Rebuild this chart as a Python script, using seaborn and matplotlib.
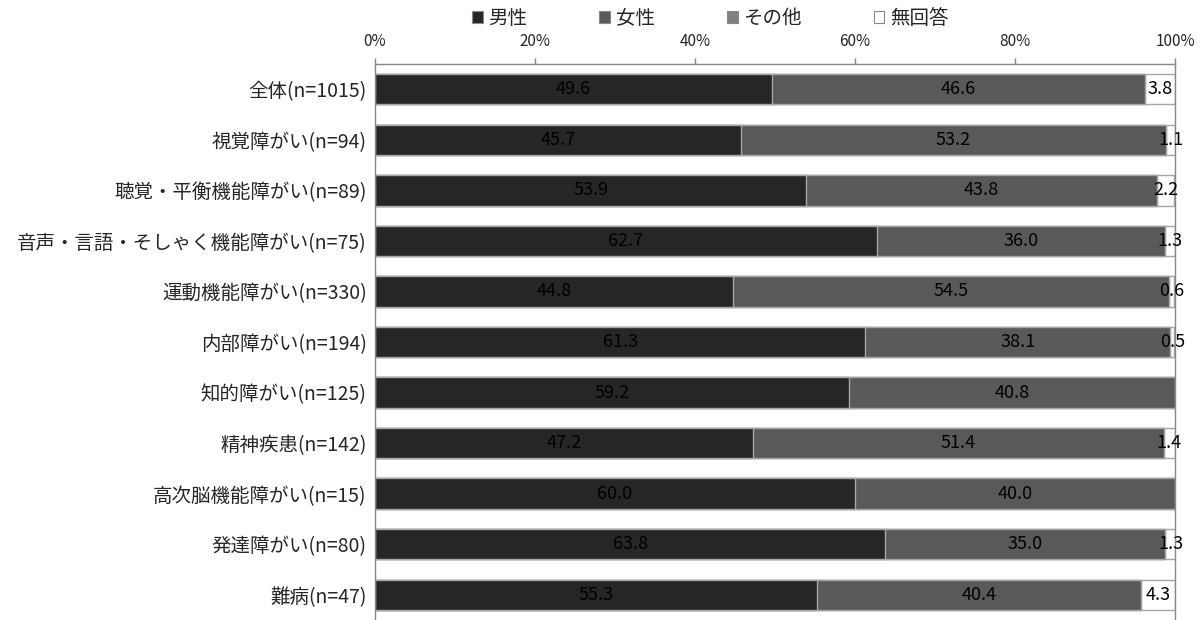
import matplotlib
matplotlib.use("Agg")
import matplotlib.pyplot as plt
from matplotlib.patches import Patch
import seaborn as sns
import pandas as pd
import numpy as np

categories = [
    "全体(n=1015)",
    "視覚障がい(n=94)",
    "聴覚・平衡機能障がい(n=89)",
    "音声・言語・そしゃく機能障がい(n=75)",
    "運動機能障がい(n=330)",
    "内部障がい(n=194)",
    "知的障がい(n=125)",
    "精神疾患(n=142)",
    "高次脳機能障がい(n=15)",
    "発達障がい(n=80)",
    "難病(n=47)",
]
male = [49.6, 45.7, 53.9, 62.7, 44.8, 61.3, 59.2, 47.2, 60.0, 63.8, 55.3]
female = [46.6, 53.2, 43.8, 36.0, 54.5, 38.1, 40.8, 51.4, 40.0, 35.0, 40.4]
other = [0.0, 0.0, 0.0, 0.0, 0.0, 0.0, 0.0, 0.0, 0.0, 0.0, 0.0]
no_answer = [3.8, 1.1, 2.2, 1.3, 0.6, 0.5, 0.0, 1.4, 0.0, 1.3, 4.3]

series_names = ["男性", "女性", "その他", "無回答"]
colors = ["#262626", "#595959", "#808080", "#ffffff"]
edge = "#a6a6a6"

sns.set_theme(style="white")
plt.rcParams["font.family"] = ["Noto Sans CJK JP", "DejaVu Sans"]

parts = np.array([male, female, other, no_answer])
cum = np.cumsum(parts, axis=0)

fig = plt.figure(figsize=(12.04, 6.2), dpi=100)
ax = fig.add_axes([375 / 1204, 0.0, 800 / 1204, 1 - 64 / 620])

# stacked bars: draw the running totals from the widest down
for i in range(3, -1, -1):
    d = pd.DataFrame({"category": categories, "value": cum[i]})
    sns.barplot(data=d, x="value", y="category", orient="h", color=colors[i],
                saturation=1, width=0.6, edgecolor=edge, linewidth=1.0, ax=ax)

# value labels in the middle of each segment
for r in range(len(categories)):
    for i in range(4):
        v = parts[i][r]
        if v <= 0:
            continue
        start = cum[i][r] - v
        ax.text(start + v / 2, r, f"{v:.1f}", ha="center", va="center",
                fontsize=13, color="black")

ax.set_xlim(0, 100)
ax.set_ylim(10.5, -0.5)
ax.set_xlabel("")
ax.set_ylabel("")
ax.xaxis.tick_top()
ax.set_xticks([0, 20, 40, 60, 80, 100])
ax.set_xticklabels([f"{t}%" for t in [0, 20, 40, 60, 80, 100]], fontsize=11)
ax.tick_params(axis="x", direction="out", length=4, width=1, color="#888888", pad=6)
ax.tick_params(axis="y", length=0, labelsize=14, pad=6)
for s in ["top", "left", "right"]:
    ax.spines[s].set_visible(True)
    ax.spines[s].set_color("#888888")
    ax.spines[s].set_linewidth(1.0)
ax.spines["bottom"].set_visible(False)

handles = [Patch(facecolor=c, edgecolor="#888888", linewidth=0.8) for c in colors]
fig.legend(handles, series_names, loc="center", bbox_to_anchor=(0.59, 0.97),
           ncol=4, frameon=False, fontsize=14, handlelength=0.55, handleheight=0.55,
           handletextpad=0.3, columnspacing=3.7)

fig.savefig("out.png", dpi=100)
